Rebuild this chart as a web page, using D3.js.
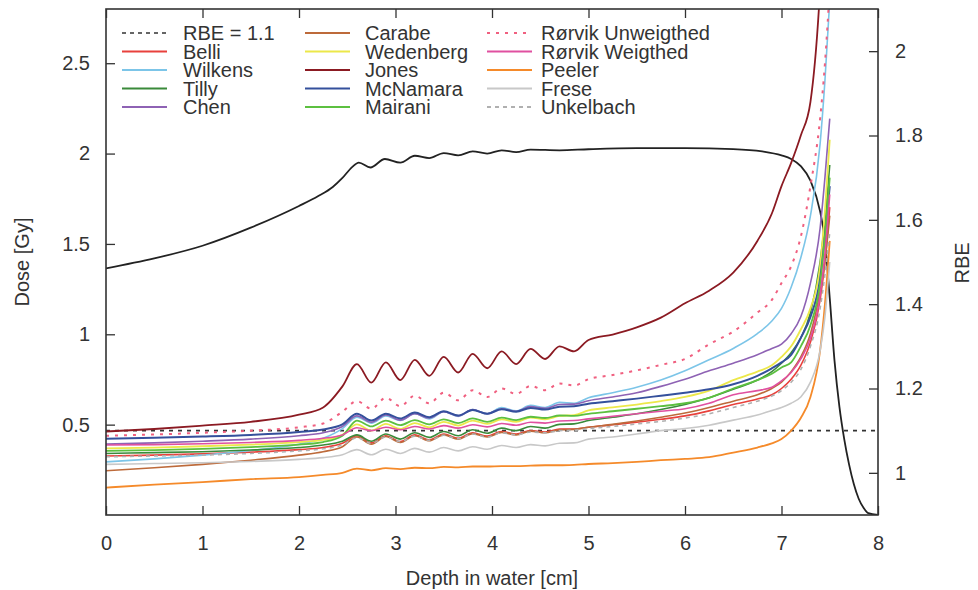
<!DOCTYPE html>
<html><head><meta charset="utf-8">
<script src="https://cdn.jsdelivr.net/npm/d3@7"></script>
<style>
html,body{margin:0;padding:0;background:#fff;}
svg text{font-family:"Liberation Sans",Arial,sans-serif;fill:#333;}
</style></head>
<body><svg id="c" width="978" height="590"></svg>
<script>
// ---------- data ----------
const depth = [0,0.5,1,1.5,2,2.25,2.45,2.6,2.75,2.9,3.05,3.2,3.35,3.5,3.65,3.8,3.95,4.1,4.25,4.4,4.55,4.7,4.85,5,5.25,5.5,5.75,6,6.25,6.5,6.75,6.9,7,7.1,7.2,7.3,7.4,7.45,7.5];

const belli = [1.04,1.042,1.045,1.049,1.055,1.06,1.07,1.088,1.071,1.088,1.074,1.09,1.078,1.092,1.082,1.095,1.087,1.098,1.092,1.10,1.097,1.104,1.104,1.108,1.114,1.12,1.127,1.135,1.147,1.162,1.175,1.185,1.2,1.222,1.255,1.31,1.41,1.5,1.63];
const wilkens = [1.026,1.033,1.042,1.053,1.068,1.082,1.105,1.132,1.118,1.135,1.124,1.14,1.128,1.145,1.134,1.15,1.14,1.155,1.147,1.16,1.155,1.167,1.165,1.178,1.19,1.203,1.22,1.242,1.268,1.295,1.33,1.36,1.39,1.44,1.51,1.61,1.78,1.93,2.12];
const tilly = [1.046,1.048,1.05,1.054,1.06,1.066,1.075,1.09,1.075,1.092,1.08,1.095,1.084,1.098,1.088,1.102,1.094,1.106,1.1,1.11,1.106,1.115,1.116,1.124,1.132,1.14,1.15,1.162,1.178,1.198,1.22,1.24,1.26,1.285,1.32,1.38,1.50,1.60,1.73];
const chen = [1.068,1.071,1.075,1.08,1.088,1.095,1.11,1.135,1.12,1.137,1.125,1.14,1.13,1.145,1.135,1.15,1.14,1.152,1.146,1.157,1.153,1.162,1.163,1.171,1.18,1.19,1.205,1.222,1.242,1.26,1.28,1.295,1.305,1.33,1.37,1.45,1.58,1.70,1.84];
const carabe = [1.005,1.012,1.02,1.03,1.042,1.05,1.062,1.085,1.068,1.086,1.072,1.088,1.076,1.09,1.08,1.093,1.085,1.096,1.09,1.099,1.095,1.102,1.103,1.108,1.115,1.123,1.132,1.142,1.155,1.17,1.185,1.2,1.215,1.24,1.275,1.33,1.43,1.5,1.61];
const wedenberg = [1.058,1.06,1.063,1.067,1.073,1.078,1.09,1.115,1.1,1.116,1.104,1.118,1.108,1.121,1.112,1.124,1.116,1.127,1.121,1.131,1.127,1.135,1.137,1.148,1.155,1.162,1.17,1.18,1.195,1.22,1.24,1.255,1.275,1.30,1.34,1.39,1.49,1.62,1.79];
const jones = [1.098,1.104,1.112,1.121,1.138,1.155,1.205,1.258,1.214,1.262,1.22,1.268,1.23,1.275,1.238,1.282,1.248,1.288,1.258,1.294,1.27,1.30,1.288,1.315,1.328,1.345,1.368,1.402,1.432,1.475,1.55,1.615,1.68,1.735,1.80,1.88,2.15,2.4,2.7];
const mcnamara = [1.081,1.083,1.086,1.09,1.097,1.103,1.115,1.14,1.124,1.14,1.129,1.143,1.132,1.146,1.136,1.149,1.14,1.151,1.145,1.154,1.15,1.157,1.158,1.164,1.17,1.176,1.183,1.19,1.198,1.21,1.23,1.248,1.262,1.28,1.32,1.37,1.46,1.56,1.68];
const mairani = [1.052,1.054,1.057,1.061,1.067,1.073,1.088,1.124,1.11,1.124,1.113,1.125,1.115,1.127,1.118,1.129,1.121,1.131,1.125,1.133,1.13,1.136,1.135,1.14,1.146,1.152,1.158,1.165,1.178,1.2,1.22,1.235,1.25,1.262,1.3,1.35,1.45,1.56,1.70];
const rorvikUnw = [1.088,1.091,1.095,1.10,1.108,1.117,1.145,1.17,1.152,1.178,1.158,1.183,1.165,1.19,1.172,1.196,1.18,1.20,1.187,1.206,1.196,1.212,1.207,1.222,1.232,1.243,1.256,1.27,1.305,1.335,1.38,1.41,1.45,1.49,1.56,1.68,1.84,1.97,2.15];
const rorvikW = [1.066,1.067,1.069,1.072,1.077,1.082,1.09,1.107,1.1,1.108,1.102,1.11,1.104,1.112,1.106,1.114,1.109,1.117,1.113,1.12,1.118,1.123,1.124,1.128,1.134,1.14,1.146,1.152,1.165,1.185,1.195,1.203,1.218,1.238,1.27,1.32,1.42,1.52,1.66];
const peeler = [0.965,0.972,0.978,0.985,0.99,0.995,1.0,1.01,1.006,1.011,1.009,1.012,1.011,1.014,1.013,1.015,1.015,1.016,1.016,1.017,1.018,1.018,1.019,1.021,1.023,1.026,1.03,1.033,1.037,1.048,1.06,1.07,1.08,1.1,1.13,1.18,1.29,1.4,1.55];
const frese = [1.02,1.022,1.024,1.027,1.032,1.036,1.043,1.055,1.043,1.056,1.046,1.058,1.049,1.06,1.052,1.062,1.056,1.065,1.06,1.067,1.064,1.07,1.071,1.08,1.085,1.092,1.1,1.105,1.113,1.125,1.137,1.148,1.155,1.165,1.18,1.215,1.29,1.37,1.5];
const unkelbach = [1.038,1.04,1.042,1.046,1.052,1.057,1.066,1.083,1.07,1.085,1.074,1.087,1.077,1.089,1.081,1.092,1.085,1.095,1.09,1.097,1.095,1.10,1.101,1.105,1.11,1.116,1.122,1.13,1.14,1.155,1.17,1.182,1.195,1.215,1.245,1.3,1.39,1.47,1.57];

const doseDepth = [0,0.5,1,1.5,2,2.2,2.35,2.45,2.55,2.62,2.74,2.89,3.05,3.2,3.35,3.5,3.65,3.8,3.95,4.1,4.25,4.4,4.7,5,5.5,6,6.5,6.8,7,7.1,7.2,7.3,7.4,7.45,7.5,7.55,7.6,7.65,7.7,7.75,7.8,7.85,7.9,8];
const doseGy = [1.365,1.42,1.49,1.59,1.71,1.765,1.815,1.865,1.925,1.95,1.923,1.97,1.95,1.988,1.975,2.003,1.99,2.012,2.0,2.018,2.008,2.022,2.018,2.024,2.03,2.03,2.025,2.012,1.99,1.97,1.93,1.85,1.68,1.52,1.2,0.85,0.6,0.42,0.28,0.17,0.09,0.04,0.01,0];

const rbeRef = 1.1;
const xTicks = [0,1,2,3,4,5,6,7,8];
const doseTicks = [0.5,1,1.5,2,2.5];
const rbeTicks = [1,1.2,1.4,1.6,1.8,2];

const seriesNames = ["Belli","Wilkens","Tilly","Chen","Carabe","Wedenberg","Jones","McNamara","Mairani","Rørvik Unweigthed","Rørvik Weigthed","Peeler","Frese","Unkelbach"];
const seriesValues = [belli,wilkens,tilly,chen,carabe,wedenberg,jones,mcnamara,mairani,rorvikUnw,rorvikW,peeler,frese,unkelbach];

// ---------- styles ----------
const style = {
  "Belli":{c:"#e8413c",w:1.6},
  "Wilkens":{c:"#7cc5e8",w:1.6},
  "Tilly":{c:"#3a8a3a",w:1.6},
  "Chen":{c:"#8e62b4",w:1.6},
  "Carabe":{c:"#bd6a3a",w:1.6},
  "Wedenberg":{c:"#ece84a",w:1.8},
  "Jones":{c:"#8b1a22",w:1.8},
  "McNamara":{c:"#34509c",w:2},
  "Mairani":{c:"#5cc040",w:1.8},
  "Rørvik Unweigthed":{c:"#f06080",w:2,d:"3,6"},
  "Rørvik Weigthed":{c:"#e050a0",w:1.6},
  "Peeler":{c:"#f58a2a",w:1.8},
  "Frese":{c:"#c8c8c8",w:1.6},
  "Unkelbach":{c:"#b0b0b0",w:1.6,d:"4,4"}
};

// ---------- layout ----------
const L=106,R=878,T=9,B=515;
const svg = d3.select("#c");
const x = d3.scaleLinear().domain([0,8]).range([L,R]);
const yL = d3.scaleLinear().domain([0,2.8]).range([B,T]);
const yR = d3.scaleLinear().domain([0.9,2.1]).range([B,T]);

svg.append("defs").append("clipPath").attr("id","clip")
  .append("rect").attr("x",L).attr("y",T).attr("width",R-L).attr("height",B-T);

const plot = svg.append("g").attr("clip-path","url(#clip)");

// RBE = 1.1 reference
plot.append("line").attr("x1",x(0)).attr("x2",x(8)).attr("y1",yR(rbeRef)).attr("y2",yR(rbeRef))
  .attr("stroke","#333").attr("stroke-width",1.6).attr("stroke-dasharray","4,5");

// dose curve
const doseLine = d3.line().x((d,i)=>x(doseDepth[i])).y(d=>yL(d)).curve(d3.curveMonotoneX);
plot.append("path").attr("d",doseLine(doseGy)).attr("fill","none")
  .attr("stroke","#222").attr("stroke-width",1.8);

// RBE series
const rbeLine = d3.line().x((d,i)=>x(depth[i])).y(d=>yR(d)).curve(d3.curveMonotoneX);
seriesNames.forEach((n,k)=>{
  const s=style[n];
  plot.append("path").attr("d",rbeLine(seriesValues[k])).attr("fill","none")
    .attr("stroke",s.c).attr("stroke-width",s.w)
    .attr("stroke-dasharray",s.d||null);
});

// axes
const fs = "20px";
const gx = svg.append("g").attr("transform",`translate(0,${B})`)
  .call(d3.axisBottom(x).tickValues(xTicks).tickFormat(d3.format("d")).tickSize(-9).tickPadding(21));
const gxt = svg.append("g").attr("transform",`translate(0,${T})`)
  .call(d3.axisTop(x).tickValues(xTicks).tickFormat("").tickSize(-9));
const gy = svg.append("g").attr("transform",`translate(${L},0)`)
  .call(d3.axisLeft(yL).tickValues(doseTicks).tickFormat(d=>d).tickSize(-9).tickPadding(16));
const gy2 = svg.append("g").attr("transform",`translate(${R},0)`)
  .call(d3.axisRight(yR).tickValues(rbeTicks).tickFormat(d=>d).tickSize(-9).tickPadding(17));
[gx,gxt,gy,gy2].forEach(g=>{
  g.select(".domain").remove();
  g.selectAll(".tick line").attr("stroke","#333").attr("stroke-width",1.3);
  g.selectAll(".tick text").style("font-size",fs).style("fill","#333");
});

svg.append("rect").attr("x",L).attr("y",T).attr("width",R-L).attr("height",B-T)
  .attr("fill","none").attr("stroke","#333").attr("stroke-width",1.6);

// axis titles
svg.append("text").attr("x",(L+R)/2).attr("y",585).attr("text-anchor","middle")
  .style("font-size",fs).text("Depth in water [cm]");
svg.append("text").attr("transform","translate(29,262) rotate(-90)").attr("text-anchor","middle")
  .style("font-size",fs).text("Dose [Gy]");
svg.append("text").attr("transform","translate(969,263) rotate(-90)").attr("text-anchor","middle")
  .style("font-size",fs).text("RBE");

// legend
const legendItems = [{n:"RBE = 1.1",c:"#333",w:1.6,d:"4,4"}].concat(seriesNames.map(n=>({n:n,c:style[n].c,w:2,d:style[n].d})));
const colX = [[122,167,183],[305,350,365],[487,532,541]];
const rowY = [33,51.5,70,88.5,107];
legendItems.forEach((it,i)=>{
  const col=Math.floor(i/5), row=i%5;
  const g=svg.append("g");
  g.append("line").attr("x1",colX[col][0]).attr("x2",colX[col][1]).attr("y1",rowY[row]).attr("y2",rowY[row])
    .attr("stroke",it.c).attr("stroke-width",it.w).attr("stroke-dasharray",it.d||null);
  g.append("text").attr("x",colX[col][2]).attr("y",rowY[row]).attr("dy","0.35em")
    .style("font-size",fs).text(it.n);
});
</script></body></html>
